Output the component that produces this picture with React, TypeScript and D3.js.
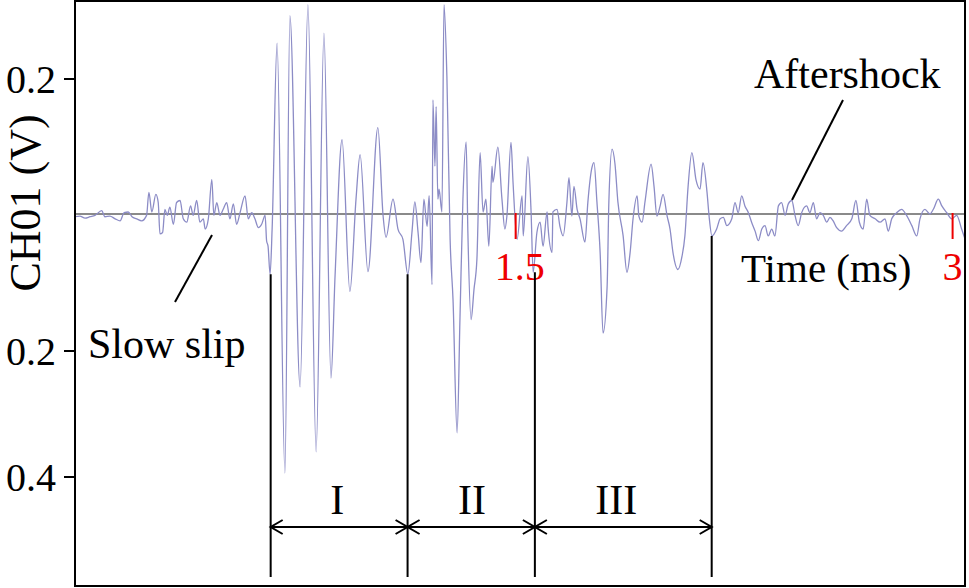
import React from "react";
import * as d3 from "d3";

// ---- data (time in ms, voltage in V) ----
const slowSlip: [number, number][] = [
  [-0.013, -0.004], [0.004, -0.003], [0.022, -0.006], [0.039, -0.004], [0.056, -0.002],
  [0.079, 0.005], [0.09, -0.004], [0.107, -0.003], [0.125, -0.007], [0.142, -0.01],
  [0.156, 0.002], [0.17, 0.003], [0.183, -0.004], [0.199, -0.007], [0.216, -0.01],
  [0.233, -0.002], [0.241, 0.032], [0.251, 0.003], [0.265, 0.029], [0.273, 0.017],
  [0.279, -0.029], [0.288, -0.027], [0.296, 0.007], [0.304, -0.002], [0.313, 0.01],
  [0.325, -0.015], [0.336, 0.017], [0.348, 0.02], [0.359, -0.007], [0.371, -0.012],
  [0.384, 0.012], [0.393, -0.002], [0.405, 0.02], [0.416, -0.012], [0.428, -0.007],
  [0.434, -0.022], [0.445, -0.007], [0.457, 0.051], [0.464, -0.002], [0.474, 0.017],
  [0.485, -0.002], [0.496, 0.007], [0.508, 0.017], [0.519, -0.007], [0.531, 0.015],
  [0.542, -0.015], [0.554, 0.002], [0.571, 0.027], [0.582, -0.007], [0.594, 0.002],
  [0.605, -0.007], [0.617, -0.02], [0.628, -0.015], [0.64, -0.002], [0.645, -0.039],
  [0.65, -0.047],
];

const stageI: [number, number][] = [
  [0.657, -0.088], [0.664, -0.022], [0.681, 0.253], [0.708, -0.394], [0.725, 0.294],
  [0.76, -0.257], [0.787, 0.31], [0.815, -0.36], [0.842, 0.268], [0.866, -0.243],
  [0.88, -0.091], [0.904, 0.11], [0.931, -0.113], [0.952, 0.022], [0.966, 0.088],
  [0.993, -0.084], [1.027, 0.128], [1.045, -0.003], [1.055, -0.034], [1.079, 0.022],
  [1.096, -0.022], [1.113, -0.037], [1.13, -0.088],
];

const stageII: [number, number][] = [
  [1.144, -0.027], [1.154, 0.018], [1.165, -0.027], [1.175, -0.071], [1.185, 0.022],
  [1.196, -0.018], [1.203, 0.027], [1.213, -0.103], [1.216, 0.169], [1.223, 0.071],
  [1.227, 0.159], [1.233, 0.022], [1.237, 0.037], [1.247, 0.003], [1.254, 0.31],
  [1.264, 0.203], [1.275, -0.037], [1.285, -0.125], [1.299, -0.33], [1.309, -0.15],
  [1.319, 0.022], [1.33, 0.107], [1.336, -0.027], [1.347, -0.154], [1.357, -0.11],
  [1.367, -0.066], [1.378, 0.091], [1.388, 0.003], [1.398, 0.022], [1.408, -0.047],
  [1.419, 0.071], [1.422, 0.047], [1.439, 0.099], [1.453, 0.022], [1.463, -0.022],
  [1.47, -0.003], [1.484, 0.106], [1.491, 0.047], [1.505, -0.037], [1.522, 0.027],
  [1.526, -0.032], [1.542, 0.085], [1.553, 0.003], [1.56, -0.085],
];

const stageIII: [number, number][] = [
  [1.573, -0.027], [1.584, -0.012], [1.594, -0.047], [1.608, 0.003], [1.611, -0.018],
  [1.625, -0.056], [1.628, 0.003], [1.642, 0.007], [1.652, -0.018], [1.663, -0.032],
  [1.676, 0.017], [1.683, 0.054], [1.693, -0.003], [1.7, 0.041], [1.711, 0.007],
  [1.721, -0.007], [1.738, -0.041], [1.748, 0.018], [1.762, 0.069], [1.769, 0.076],
  [1.779, 0.018], [1.79, -0.056], [1.8, -0.174], [1.814, -0.106], [1.82, 0.018],
  [1.831, 0.096], [1.841, 0.074], [1.851, 0.018], [1.869, -0.032], [1.882, -0.085],
  [1.893, -0.056], [1.903, -0.007], [1.917, 0.027], [1.923, -0.003], [1.934, -0.012],
  [1.944, 0.018], [1.965, 0.074], [1.975, 0.041], [1.985, -0.003], [1.996, 0.012],
  [2.006, 0.029], [2.02, -0.003], [2.03, -0.022], [2.04, -0.056], [2.057, -0.081],
  [2.071, -0.062], [2.081, -0.032], [2.092, 0.041], [2.105, 0.091], [2.119, 0.051],
  [2.133, 0.037], [2.143, 0.076], [2.157, 0.032], [2.164, -0.003], [2.174, -0.032],
];

const aftershock: [number, number][] = [
  [2.19, -0.022], [2.202, -0.007], [2.213, -0.005], [2.225, -0.017], [2.242, -0.007],
  [2.253, 0.017], [2.264, 0.002], [2.276, 0.027], [2.287, 0.012], [2.299, 0.002],
  [2.31, -0.012], [2.322, -0.025], [2.333, -0.039], [2.345, -0.022], [2.356, -0.017],
  [2.367, -0.032], [2.379, -0.022], [2.39, -0.032], [2.402, 0.012], [2.413, 0.017],
  [2.425, -0.002], [2.436, 0.015], [2.448, 0.02], [2.459, -0.002], [2.47, -0.017],
  [2.482, 0.002], [2.499, 0.012], [2.51, 0.002], [2.522, 0.017], [2.533, -0.007],
  [2.545, 0.002], [2.556, -0.002], [2.568, -0.012], [2.579, -0.005], [2.59, -0.01],
  [2.602, -0.02], [2.619, -0.025], [2.636, -0.017], [2.654, -0.007], [2.668, 0.02],
  [2.68, -0.012], [2.693, -0.022], [2.705, 0.022], [2.716, -0.002], [2.734, -0.007],
  [2.751, -0.012], [2.768, -0.007], [2.779, -0.025], [2.791, -0.007], [2.808, 0.002],
  [2.825, 0.007], [2.842, -0.002], [2.86, -0.017], [2.877, -0.032], [2.888, -0.007],
  [2.905, 0.007], [2.922, 0.0], [2.934, 0.007], [2.951, 0.022], [2.963, 0.012],
  [2.98, 0.002], [2.997, -0.007], [3.014, -0.002], [3.031, -0.022], [3.043, -0.037],
];

const yTicks = [0.2, -0.2, -0.4];
const yTickLabels = ["0.2", "0.2", "0.4"];
const xTicks = [1.5, 3];
const xTickLabels = ["1.5", "3"];
const stageBounds = [0.659, 1.129, 1.566, 2.173];
const stageTops = [-0.088, -0.088, -0.085, -0.032];
const stageNames = ["I", "II", "III"];
const stageLabelT = [0.888, 1.35, 1.845];

const W = 969;
const H = 588;
const FONT = "'Liberation Serif', 'Times New Roman', serif";

export default function App() {
  const frame = { left: 75, top: 1, right: 965, bottom: 586 };
  const x = d3.scaleLinear().domain([0, 3]).range([78.7, 952.6]);
  const y = d3.scaleLinear().domain([0.2, 0, -0.2, -0.4]).range([79, 214, 351, 477]);

  const signal = [...slowSlip, ...stageI, ...stageII, ...stageIII, ...aftershock];
  const line = d3
    .line<[number, number]>()
    .x((d) => x(d[0]))
    .y((d) => y(d[1]))
    .curve(d3.curveMonotoneX);

  const arrowY = 527;
  const lineBottom = 577;
  const head = (xp: number, dir: number) =>
    `M${xp + dir * 12},${arrowY - 7} L${xp},${arrowY} L${xp + dir * 12},${arrowY + 7}`;

  return (
    <svg
      width={W}
      height={H}
      style={{ position: "absolute", left: 0, top: 0, background: "#fff" }}
      fontFamily={FONT}
    >
      <defs>
        <clipPath id="plotClip">
          <rect x={frame.left} y={frame.top} width={frame.right - frame.left} height={frame.bottom - frame.top} />
        </clipPath>
      </defs>
      <rect x={0} y={0} width={W} height={H} fill="#fff" />

      {/* zero line */}
      <line x1={frame.left} x2={frame.right} y1={y(0)} y2={y(0)} stroke="#8a8a8a" strokeWidth={2} />

      {/* waveform */}
      <path
        d={line(signal) || ""}
        fill="none"
        stroke="#8c8cc6"
        strokeWidth={1.3}
        clipPath="url(#plotClip)"
      />

      {/* red time ticks */}
      {xTicks.map((t, i) => (
        <g key={"xt" + i}>
          <line x1={x(t)} x2={x(t)} y1={y(0) - 1} y2={y(0) + 25} stroke="#ee0000" strokeWidth={2} />
          <text x={x(t) + (i === 0 ? 4 : 0)} y={280} fontSize={40} fill="#ee0000" textAnchor="middle">
            {xTickLabels[i]}
          </text>
        </g>
      ))}

      {/* stage boundary lines */}
      {stageBounds.map((t, i) => (
        <line key={"sb" + i} x1={x(t)} x2={x(t)} y1={y(stageTops[i])} y2={lineBottom} stroke="#000" strokeWidth={2} />
      ))}

      {/* stage arrows */}
      {stageNames.map((name, i) => {
        const x0 = x(stageBounds[i]);
        const x1 = x(stageBounds[i + 1]);
        return (
          <g key={"st" + i}>
            <line x1={x0} x2={x1} y1={arrowY} y2={arrowY} stroke="#000" strokeWidth={2} />
            <path d={head(x0, 1)} fill="none" stroke="#000" strokeWidth={2} />
            <path d={head(x1, -1)} fill="none" stroke="#000" strokeWidth={2} />
            <text x={x(stageLabelT[i])} y={514} fontSize={42} textAnchor="middle" fill="#000">
              {name}
            </text>
          </g>
        );
      })}

      {/* annotations */}
      <line x1={175} y1={302} x2={212} y2={235} stroke="#000" strokeWidth={2} />
      <text x={88} y={358} fontSize={42} fill="#000">Slow slip</text>
      <line x1={843} y1={100} x2={792} y2={200} stroke="#000" strokeWidth={2} />
      <text x={754} y={88} fontSize={42} fill="#000">Aftershock</text>
      <text x={741} y={282} fontSize={41} fill="#000">Time (ms)</text>

      {/* y axis ticks */}
      {yTicks.map((v, i) => (
        <g key={"yt" + i}>
          <line x1={64} x2={frame.left} y1={y(v)} y2={y(v)} stroke="#000" strokeWidth={2} />
          <text x={56} y={y(v) + 13.5} fontSize={40} textAnchor="end" fill="#000">
            {yTickLabels[i]}
          </text>
        </g>
      ))}
      <text
        transform={`translate(40,203) rotate(-90)`}
        fontSize={44}
        textAnchor="middle"
        fill="#000"
      >
        CH01 (V)
      </text>

      {/* frame */}
      <rect
        x={frame.left}
        y={frame.top}
        width={frame.right - frame.left}
        height={frame.bottom - frame.top}
        fill="none"
        stroke="#000"
        strokeWidth={2}
      />
    </svg>
  );
}
